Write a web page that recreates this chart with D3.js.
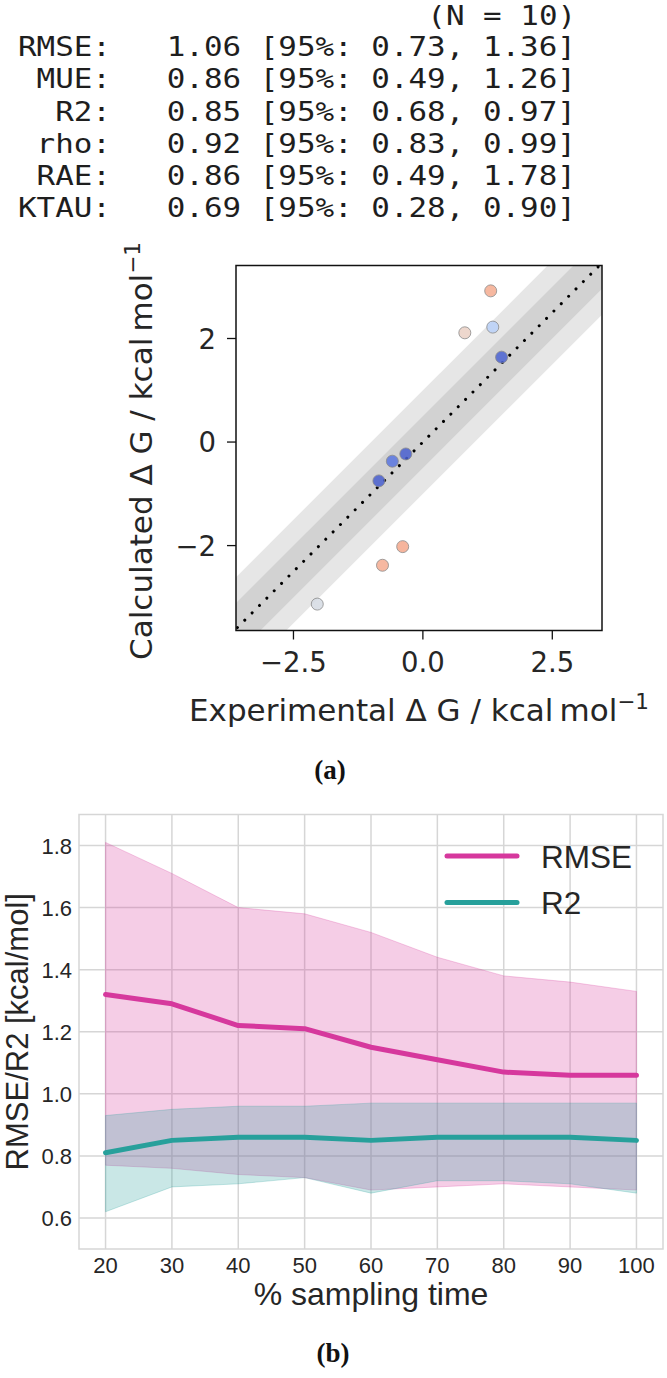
<!DOCTYPE html>
<html><head><meta charset="utf-8">
<script src="https://cdn.jsdelivr.net/npm/d3@7"></script>
<style>body{margin:0;background:#fff} svg{display:block}</style>
</head><body>
<svg id="c" width="667" height="1378"></svg>
<script>
// ---------- data: statistics block ----------
const statNames = ["RMSE", "MUE", "R2", "rho", "RAE", "KTAU"];
const statValues = [1.06, 0.86, 0.85, 0.92, 0.86, 0.69];
const statLow = [0.73, 0.49, 0.68, 0.83, 0.49, 0.28];
const statHigh = [1.36, 1.26, 0.97, 0.99, 1.78, 0.90];
const nSamples = 10;

// ---------- data: scatter (a) ----------
const expDG = [1.31, 1.35, 0.81, 1.52, -0.33, -0.59, -0.85, -0.39, -0.78, -2.04];
const calcDG = [2.92, 2.22, 2.11, 1.64, -0.23, -0.37, -0.75, -2.02, -2.38, -3.13];
const scatterXTicks = [-2.5, 0, 2.5];
const scatterYTicks = [-2, 0, 2];

// ---------- data: sampling time (b) ----------
const samplingTime = [20, 30, 40, 50, 60, 70, 80, 90, 100];
const rmseMean = [1.32, 1.29, 1.22, 1.21, 1.15, 1.11, 1.07, 1.06, 1.06];
const rmseLow = [0.77, 0.76, 0.74, 0.73, 0.69, 0.70, 0.71, 0.70, 0.69];
const rmseHigh = [1.81, 1.71, 1.60, 1.58, 1.52, 1.44, 1.38, 1.36, 1.33];
const r2Mean = [0.81, 0.85, 0.86, 0.86, 0.85, 0.86, 0.86, 0.86, 0.85];
const r2Low = [0.62, 0.70, 0.71, 0.73, 0.68, 0.72, 0.72, 0.71, 0.68];
const r2High = [0.93, 0.95, 0.96, 0.96, 0.97, 0.97, 0.97, 0.97, 0.97];
const yTicksB = [0.6, 0.8, 1.0, 1.2, 1.4, 1.6, 1.8];
const xTicksB = [20, 30, 40, 50, 60, 70, 80, 90, 100];
const seriesNames = ["RMSE", "R2"];

const svg = d3.select("#c");
const fmtMinus = v => String(v).replace("-", "\u2212");

// ---------- statistics text ----------
const mono = "'DejaVu Sans Mono', monospace";
const monoSize = 27.4;
const stretch = 1.128;               // glyphs in the reference are horizontally wider
const charW = monoSize * 0.602;      // in unscaled units
const x0 = 18 / stretch;
const stats = svg.append("g").attr("transform", `scale(${stretch},1)`)
  .attr("font-family", mono).attr("font-size", monoSize).attr("fill", "#1e1e1e");
const statLines = statNames.map((n, i) =>
  (n + ":").padStart(5, " ") + "   " + statValues[i].toFixed(2) +
  ` [95%: ${statLow[i].toFixed(2)}, ${statHigh[i].toFixed(2)}]`);
stats.append("text").attr("x", x0 + 22 * charW).attr("y", 25.5).text(`(N = ${nSamples})`);
stats.selectAll("text.sl").data(statLines).join("text").attr("class", "sl")
  .attr("x", x0).attr("y", (d, i) => 56.4 + i * 32.1)
  .attr("xml:space", "preserve").style("white-space", "pre")
  .text(d => d);

// ---------- scatter (a) ----------
const sx = d3.scaleLinear().domain([-3.61, 3.46]).range([236, 602]);
const sy = d3.scaleLinear().domain([-3.64, 3.41]).range([630.5, 265.5]);
const coolStops = ["#3b4cc0", "#6282ea", "#8db0fe", "#b8d0f9", "#dddddd", "#f5c4ad", "#f49a7b", "#de604d", "#b40426"];
const errMax = 2.3;
const errColor = d3.scaleLinear().domain(d3.range(9).map(i => i * errMax / 8)).range(coolStops).interpolate(d3.interpolateRgb).clamp(true);

svg.append("clipPath").attr("id", "clipA").append("rect")
  .attr("x", sx.range()[0]).attr("y", sy.range()[1])
  .attr("width", sx.range()[1] - sx.range()[0]).attr("height", sy.range()[0] - sy.range()[1]);
const ga = svg.append("g").attr("clip-path", "url(#clipA)");
const diagX = [-6, 6];
[1, 0.5].forEach(w => {
  ga.append("path").datum(diagX)
    .attr("d", d3.area().x(v => sx(v)).y0(v => sy(v - w)).y1(v => sy(v + w)))
    .attr("fill", "#808080").attr("fill-opacity", 0.2);
});
ga.append("path").datum(diagX)
  .attr("d", d3.line().x(v => sx(v)).y(v => sy(v)))
  .attr("stroke", "#000").attr("stroke-width", 3).attr("stroke-linecap", "round")
  .attr("stroke-dasharray", "0.01 10.4").attr("fill", "none");
ga.selectAll("circle").data(expDG).join("circle")
  .attr("cx", d => sx(d)).attr("cy", (d, i) => sy(calcDG[i])).attr("r", 6)
  .attr("fill", (d, i) => errColor(Math.abs(calcDG[i] - d))).attr("fill-opacity", 0.85)
  .attr("stroke", "#8a8a8a").attr("stroke-width", 0.8);
svg.append("rect").attr("x", sx.range()[0]).attr("y", sy.range()[1])
  .attr("width", sx.range()[1] - sx.range()[0]).attr("height", sy.range()[0] - sy.range()[1])
  .attr("fill", "none").attr("stroke", "#111").attr("stroke-width", 1.5);

const dv = "'DejaVu Sans', sans-serif";
const axA = svg.append("g").attr("font-family", dv).attr("fill", "#262626");
scatterXTicks.forEach(t => {
  axA.append("line").attr("x1", sx(t)).attr("x2", sx(t)).attr("y1", sy.range()[0]).attr("y2", sy.range()[0] + 9)
    .attr("stroke", "#111").attr("stroke-width", 1.3);
  axA.append("text").attr("x", sx(t)).attr("y", 671.5).attr("text-anchor", "middle").attr("font-size", 27.5)
    .text(fmtMinus(t.toFixed(1)));
});
scatterYTicks.forEach(t => {
  axA.append("line").attr("x1", sx.range()[0] - 9).attr("x2", sx.range()[0]).attr("y1", sy(t)).attr("y2", sy(t))
    .attr("stroke", "#111").attr("stroke-width", 1.3);
  axA.append("text").attr("x", 216).attr("y", sy(t) + 10).attr("text-anchor", "end").attr("font-size", 27.5)
    .text(fmtMinus(String(t)));
});
function mathLabel(g, prefix) {
  const t = g.append("text").attr("text-anchor", "middle").attr("font-size", 31).attr("font-family", dv).attr("fill", "#262626");
  t.append("tspan").text(prefix + " \u0394 G / kcal\u2009mol");
  t.append("tspan").attr("font-size", 21.5).attr("dy", -12.5).text("\u22121");
  return t;
}
mathLabel(axA, "Experimental").attr("x", (sx.range()[0] + sx.range()[1]) / 2).attr("y", 721);
mathLabel(axA, "Calculated").attr("transform", `translate(152,${(sy.range()[0] + sy.range()[1]) / 2 + 3}) rotate(-90)`);

svg.append("text").attr("x", 330).attr("y", 779).attr("text-anchor", "middle")
  .attr("font-family", "'Liberation Serif', serif").attr("font-weight", "bold").attr("font-size", 27).attr("fill", "#111")
  .text("(a)");

// ---------- sampling time (b) ----------
const bx = d3.scaleLinear().domain([16, 104]).range([79, 663]);
const by = d3.scaleLinear().domain([0.5, 1.9]).range([1249, 814.5]);
const gb = svg.append("g");
const gridC = "#d6d6d6";
gb.selectAll("line.gx").data(xTicksB).join("line").attr("class", "gx")
  .attr("x1", d => bx(d)).attr("x2", d => bx(d)).attr("y1", by.range()[0]).attr("y2", by.range()[1])
  .attr("stroke", gridC).attr("stroke-width", 1.5);
gb.selectAll("line.gy").data(yTicksB).join("line").attr("class", "gy")
  .attr("y1", d => by(d)).attr("y2", d => by(d)).attr("x1", bx.range()[0]).attr("x2", bx.range()[1])
  .attr("stroke", gridC).attr("stroke-width", 1.5);

const colRMSE = "#d6389d", colR2 = "#27a09b";
const idx = d3.range(samplingTime.length);
function band(lo, hi, col) {
  gb.append("path").datum(idx)
    .attr("d", d3.area().x(i => bx(samplingTime[i])).y0(i => by(lo[i])).y1(i => by(hi[i])))
    .attr("fill", col).attr("fill-opacity", 0.25).attr("stroke", col).attr("stroke-opacity", 0.25).attr("stroke-width", 1);
}
function line(m, col) {
  gb.append("path").datum(idx)
    .attr("d", d3.line().x(i => bx(samplingTime[i])).y(i => by(m[i])))
    .attr("fill", "none").attr("stroke", col).attr("stroke-width", 5).attr("stroke-linecap", "round").attr("stroke-linejoin", "round");
}
band(rmseLow, rmseHigh, colRMSE);
line(rmseMean, colRMSE);
band(r2Low, r2High, colR2);
line(r2Mean, colR2);

gb.append("rect").attr("x", bx.range()[0]).attr("y", by.range()[1])
  .attr("width", bx.range()[1] - bx.range()[0]).attr("height", by.range()[0] - by.range()[1])
  .attr("fill", "none").attr("stroke", gridC).attr("stroke-width", 1.5);

const lib = "'Liberation Sans', Arial, sans-serif";
const tb = svg.append("g").attr("font-family", lib).attr("fill", "#262626");
tb.selectAll("text.tx").data(xTicksB).join("text").attr("class", "tx")
  .attr("x", d => bx(d)).attr("y", 1273).attr("text-anchor", "middle").attr("font-size", 22).text(d => d);
tb.selectAll("text.ty").data(yTicksB).join("text").attr("class", "ty")
  .attr("x", 72).attr("y", d => by(d) + 8).attr("text-anchor", "end").attr("font-size", 22).text(d => d.toFixed(1));
tb.append("text").attr("x", (bx.range()[0] + bx.range()[1]) / 2).attr("y", 1305).attr("text-anchor", "middle")
  .attr("font-size", 32).text("% sampling time");
tb.append("text").attr("transform", `translate(28,${(by.range()[0] + by.range()[1]) / 2}) rotate(-90)`)
  .attr("text-anchor", "middle").attr("font-size", 31).text("RMSE/R2 [kcal/mol]");

const legCols = [colRMSE, colR2];
const leg = svg.append("g");
seriesNames.forEach((n, i) => {
  const y = 856 + i * 46.5;
  leg.append("line").attr("x1", 447).attr("x2", 517).attr("y1", y).attr("y2", y)
    .attr("stroke", legCols[i]).attr("stroke-width", 5).attr("stroke-linecap", "round");
  leg.append("text").attr("x", 541).attr("y", y + 11.5).attr("font-family", lib).attr("font-size", 31.5)
    .attr("fill", "#262626").text(n);
});

svg.append("text").attr("x", 333).attr("y", 1362).attr("text-anchor", "middle")
  .attr("font-family", "'Liberation Serif', serif").attr("font-weight", "bold").attr("font-size", 27).attr("fill", "#111")
  .text("(b)");
</script>
</body></html>
